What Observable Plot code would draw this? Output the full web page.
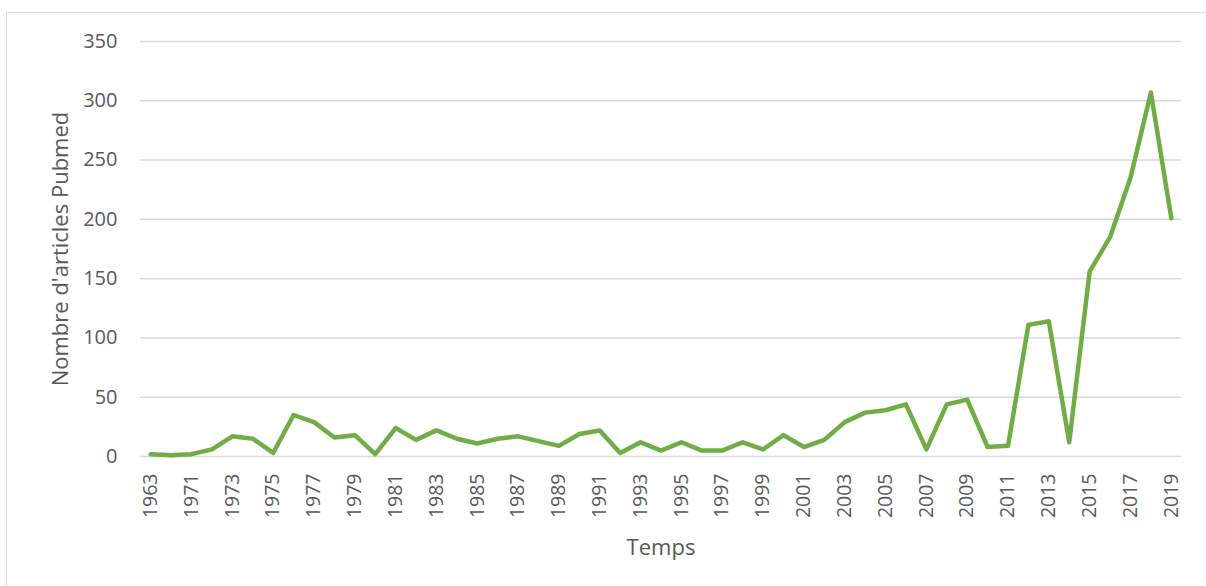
<!DOCTYPE html>
<html>
<head>
<meta charset="utf-8">
<script src="https://cdn.jsdelivr.net/npm/d3@7"></script>
<script src="https://cdn.jsdelivr.net/npm/@observablehq/plot@0.6"></script>
<style>
  html, body { margin: 0; padding: 0; background: #fff; overflow: hidden; }
  #wrap { position: relative; width: 1206px; height: 586px; }
  #border { position: absolute; left: 6px; top: 12px; width: 1220px; height: 600px; border: 1.5px solid #d9d9d9; box-sizing: border-box; }
  #chart { position: absolute; left: 0; top: 0; }
</style>
</head>
<body>
<div id="wrap"><div id="border"></div><div id="chart"></div></div>
<script>
const years = ["1963","1970","1971","1972","1973","1974","1975","1976","1977","1978","1979",
  "1980","1981","1982","1983","1984","1985","1986","1987","1988","1989",
  "1990","1991","1992","1993","1994","1995","1996","1997","1998","1999",
  "2000","2001","2002","2003","2004","2005","2006","2007","2008","2009",
  "2010","2011","2012","2013","2014","2015","2016","2017","2018","2019"];
const articles = [2,1,2,6,17,15,3,35,29,16,18,
  2,24,14,22,15,11,15,17,13,9,
  19,22,3,12,5,12,5,5,12,6,
  18,8,14,29,37,39,44,6,44,48,
  8,9,111,114,12,156,185,235,307,201];
const yTicks = [0,50,100,150,200,250,300,350];
const xLabels = years.filter((d, i) => i % 2 === 0);
const yTitle = "Nombre d'articles Pubmed";
const xTitle = "Temps";

const data = years.map((y, i) => ({year: y, count: articles[i]}));
const textColor = "#595959";
const font = "'Open Sans', sans-serif";

const chart = Plot.plot({
  width: 1206,
  height: 586,
  marginLeft: 140,
  marginRight: 25,
  marginTop: 41,
  marginBottom: 130,
  style: {fontFamily: font, color: textColor, background: "transparent"},
  x: {type: "point", domain: years, padding: 0.5, round: false},
  y: {domain: [0, 350]},
  marks: [
    Plot.ruleY(yTicks, {stroke: "#d9d9d9", strokeWidth: 1.5}),
    Plot.axisY({ticks: yTicks, tickSize: 0, tickPadding: 23, fontSize: 20, label: null, fill: textColor}),
    Plot.axisX({ticks: xLabels, tickSize: 0, tickPadding: 17, tickRotate: -90, fontSize: 19.5, label: null, fill: textColor}),
    Plot.line(data, {x: "year", y: "count", stroke: "#70ad47", strokeWidth: 4.5, strokeLinejoin: "round", strokeLinecap: "round"}),
    Plot.text([xTitle], {frameAnchor: "bottom", dy: 91, text: d => d, fontSize: 22, fill: textColor, lineAnchor: "middle", textAnchor: "middle"}),
    Plot.text([yTitle], {frameAnchor: "left", dx: -80, rotate: -90, text: d => d, fontSize: 22, fill: textColor, lineAnchor: "middle", textAnchor: "middle"})
  ]
});
document.getElementById("chart").appendChild(chart);
</script>
</body>
</html>
